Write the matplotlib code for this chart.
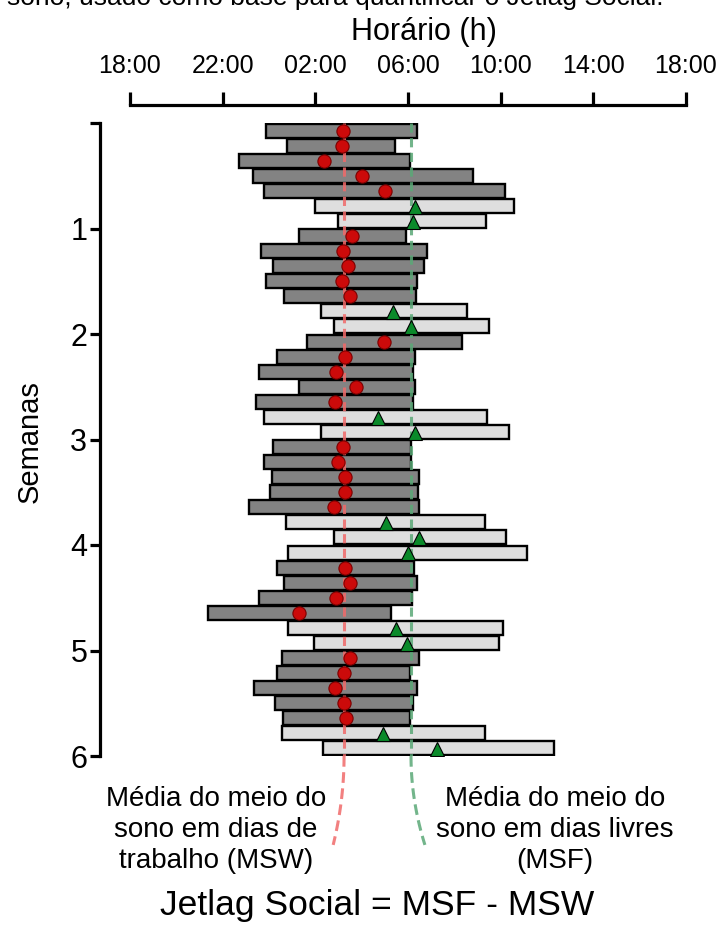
import matplotlib
matplotlib.use("Agg")
import matplotlib.pyplot as plt
import numpy as np

plt.rcParams['font.family'] = ['Liberation Sans', 'DejaVu Sans']

# horario em horas "continuas" (18 = 18:00, 24 = 00:00, 30 = 06:00 do dia seguinte)
inicio = [23.86, 24.79, 22.70, 23.32, 23.77, 26.00, 26.96,
          25.29, 23.64, 24.18, 23.87, 24.66, 26.23, 26.80,
          25.63, 24.33, 23.57, 25.29, 23.46, 23.78, 26.24,
          24.18, 23.78, 24.12, 24.04, 23.14, 24.73, 26.80,
          24.83, 24.33, 24.66, 23.57, 21.35, 24.83, 25.95,
          24.57, 24.33, 23.35, 24.26, 24.62, 24.55, 26.32]
fim = [30.40, 29.44, 30.08, 32.82, 34.18, 34.57, 33.36,
       29.91, 30.81, 30.70, 30.40, 30.33, 32.53, 33.51,
       32.32, 30.30, 30.22, 30.30, 30.22, 33.39, 34.36,
       30.15, 30.15, 30.49, 30.44, 30.49, 33.32, 34.23,
       35.12, 30.27, 30.37, 30.18, 29.25, 34.11, 33.94,
       30.47, 30.08, 30.37, 30.22, 30.08, 33.32, 36.30]
meio = [27.19, 27.14, 26.37, 28.03, 29.01, 30.30, 30.20,
        27.59, 27.19, 27.40, 27.16, 27.50, 29.36, 30.13,
        28.96, 27.28, 26.89, 27.74, 26.85, 28.69, 30.30,
        27.21, 26.99, 27.28, 27.28, 26.80, 29.05, 30.49,
        30.01, 27.28, 27.50, 26.88, 25.29, 29.47, 29.94,
        27.50, 27.25, 26.85, 27.25, 27.31, 28.93, 31.26]
# T = dia de trabalho, L = dia livre
tipo_dia = list("TTTTTLL" "TTTTTLL" "TTTTTLL" "TTTTTLL" "LTTTTLL" "TTTTTLL")
msw = 27.24
msf = 30.13

horas_ticks = [18, 22, 26, 30, 34, 38, 42]
horas_labels = ["18:00", "22:00", "02:00", "06:00", "10:00", "14:00", "18:00"]
semanas = [0, 1, 2, 3, 4, 5, 6]
semanas_labels = ["", "1", "2", "3", "4", "5", "6"]

fig = plt.figure(figsize=(7.2, 9.32), dpi=100)
ax = fig.add_axes([130 / 720, 1 - 756 / 932, 556 / 720, 633 / 932])

n = len(inicio)
y = np.arange(n) + 0.5
trab = np.array([t == "T" for t in tipo_dia])
ini = np.array(inicio)
dur = np.array(fim) - ini
mid = np.array(meio)

ax.barh(y[trab], dur[trab], left=ini[trab], height=0.93, color="#838383",
        edgecolor="black", linewidth=1.7, zorder=2)
ax.barh(y[~trab], dur[~trab], left=ini[~trab], height=0.93, color="#dedede",
        edgecolor="black", linewidth=1.7, zorder=2)

# linhas medias (MSW / MSF) com curva ate o texto
for xm, cor, sinal in [(msw, "#f06a6a", -0.47), (msf, "#5aa877", 0.6)]:
    ax.plot([xm, xm], [0, n], color=cor, lw=2.2, dashes=(3, 1.8), alpha=0.85, zorder=3)
    t = np.linspace(0, 1, 30)
    ax.plot(xm + sinal * t ** 2, n + 5.9 * t, color=cor, lw=2.2, dashes=(3.5, 1.8),
            alpha=0.85, zorder=3, clip_on=False)

ax.plot(mid[trab], y[trab], "o", ms=9.5, color="#cc0a0a", mec="#7a0000", mew=0.8, zorder=4)
ax.plot(mid[~trab], y[~trab] + 0.05, "^", ms=10.5,
        color="#0a8a2a", mec="black", mew=0.8, zorder=4)

ax.set_xlim(18, 42)
ax.set_ylim(n, 0)

for s in ["right", "bottom"]:
    ax.spines[s].set_visible(False)
ax.spines["top"].set_position(("outward", 13))
ax.spines["left"].set_position(("outward", 21.6))
ax.spines["top"].set_linewidth(2.3)
ax.spines["left"].set_linewidth(2.3)

ax.xaxis.tick_top()
ax.set_xticks(horas_ticks)
ax.set_xticklabels(horas_labels)
ax.set_yticks([w * 7 for w in semanas])
ax.set_yticklabels(semanas_labels)
ax.tick_params(axis="x", length=9.4, width=2.3, pad=10, labelsize=18)
ax.tick_params(axis="y", length=7.2, width=2.3, pad=2, labelsize=22)

fig.text(424 / 720, 1 - 32 / 932, "Horário (h)", ha="center", va="center", fontsize=22)
fig.text(30 / 720, 1 - 442 / 932, "Semanas", ha="center", va="center", rotation=90, fontsize=21)
fig.text(7 / 720, 1 - 5.5 / 932, "sono, usado como base para quantificar o Jetlag Social.",
         ha="left", va="baseline", fontsize=19)
fig.text(216 / 720, 1 - 830 / 932, "Média do meio do\nsono em dias de\ntrabalho (MSW)",
         ha="center", va="center", fontsize=20, linespacing=1.24)
fig.text(555 / 720, 1 - 830 / 932, "Média do meio do\nsono em dias livres\n(MSF)",
         ha="center", va="center", fontsize=20, linespacing=1.24)
fig.text(377 / 720, 1 - 905 / 932, "Jetlag Social = MSF - MSW", ha="center", va="center",
         fontsize=25.5)

fig.savefig("out.png", dpi=100)
